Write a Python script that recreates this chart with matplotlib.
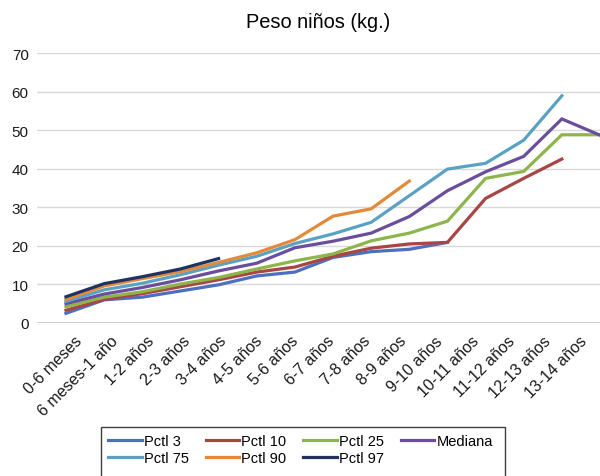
import numpy as np
import matplotlib.pyplot as plt
from matplotlib.patches import Rectangle

plt.rcParams['font.family'] = ['Liberation Sans', 'DejaVu Sans']

edades = ['0-6 meses', '6 meses-1 año', '1-2 años', '2-3 años', '3-4 años',
          '4-5 años', '5-6 años', '6-7 años', '7-8 años', '8-9 años',
          '9-10 años', '10-11 años', '11-12 años', '12-13 años', '13-14 años']

nan = np.nan
pctl3 = [2.5, 6.0, 6.7, 8.3, 9.9, 12.2, 13.2, 17.0, 18.5, 19.1, 20.9,
         nan, nan, nan, nan]
pctl10 = [3.3, 6.1, 7.6, 9.4, 11.2, 13.2, 14.5, 17.3, 19.4, 20.5, 20.9,
          32.3, 37.5, 42.5, nan]
pctl25 = [4.2, 6.7, 8.1, 10.1, 11.8, 14.0, 16.1, 17.9, 21.3, 23.3, 26.4,
          37.5, 39.3, 48.8, 48.8]
mediana = [5.0, 7.5, 9.2, 11.2, 13.5, 15.5, 19.5, 21.2, 23.3, 27.6, 34.3,
           39.2, 43.2, 52.9, 48.7]
pctl75 = [5.6, 8.6, 10.3, 12.5, 15.0, 17.3, 20.6, 23.1, 26.1, 33.0, 39.9,
          41.4, 47.4, 58.9, nan]
pctl90 = [6.1, 9.6, 11.5, 13.3, 15.7, 18.2, 21.6, 27.7, 29.6, 36.8,
          nan, nan, nan, nan, nan]
pctl97 = [6.8, 10.2, 12.0, 14.0, 16.7, nan, nan, nan, nan, nan,
          nan, nan, nan, nan, nan]

series = [('Pctl 3', pctl3, '#4d6fbf'),
          ('Pctl 10', pctl10, '#a84545'),
          ('Pctl 25', pctl25, '#8db54c'),
          ('Mediana', mediana, '#6a4e9b'),
          ('Pctl 75', pctl75, '#5aa2c3'),
          ('Pctl 90', pctl90, '#e3893b'),
          ('Pctl 97', pctl97, '#1f3260')]

fig = plt.figure(figsize=(6, 4.77), dpi=100)
ax = fig.add_axes([37 / 600, 1 - 324 / 477, 563 / 600, 270 / 477])

x = np.arange(len(edades))
lineas = []
for nombre, valores, color in series:
    ln, = ax.plot(x, valores, color=color, lw=2.3, label=nombre,
                  solid_joinstyle='miter', clip_on=False)
    lineas.append(ln)

ax.set_xlim(-0.76, 14)
ax.set_ylim(0, 70)
ax.set_yticks(range(0, 71, 10))
ax.yaxis.grid(True, color='#d9d9d9', lw=1)
ax.axhline(0, color='#c0c0c0', lw=1.8, zorder=0.5)
ax.set_axisbelow(True)
for s in ax.spines.values():
    s.set_visible(False)
ax.tick_params(axis='y', length=0, pad=6, labelsize=11, colors='#1a1a1a')

# category labels sit on a slightly tighter spacing than the points
pos = (74 + 36.1 * x - 37) / (563 / 14.76) - 0.76
ax.set_xticks(pos)
ax.set_xticklabels(edades, rotation=45, ha='right', va='top',
                   rotation_mode='anchor', fontsize=11.5, color='#1a1a1a')
ax.tick_params(axis='x', length=0, pad=7)

ax.set_title('Peso niños (kg.)', fontsize=14.4, pad=19)

# legend is filled column by column, so order entries to read across rows
orden = [0, 4, 1, 5, 2, 6, 3]
fig.legend([lineas[i] for i in orden], [series[i][0] for i in orden],
           loc='upper left', bbox_to_anchor=(108 / 600, 1 - 435 / 477),
           ncol=4, frameon=False, fontsize=10.5, handlelength=2.3,
           handletextpad=0.15, columnspacing=1.15, labelspacing=0.2,
           borderpad=0, borderaxespad=0)
fig.patches.append(Rectangle((101 / 600, -0.1), 404 / 600, 1 - 428 / 477 + 0.1,
                             transform=fig.transFigure, fill=False,
                             edgecolor='#404040', lw=1))

fig.savefig('out.png', dpi=100)
